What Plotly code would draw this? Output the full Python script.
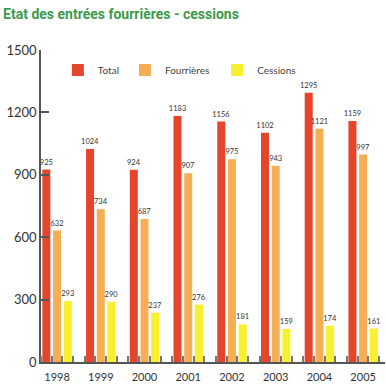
import plotly.graph_objects as go

years = ["1998", "1999", "2000", "2001", "2002", "2003", "2004", "2005"]
total = [925, 1024, 924, 1183, 1156, 1102, 1295, 1159]
fourrieres = [632, 734, 687, 907, 975, 943, 1121, 997]
cessions = [293, 290, 237, 276, 181, 159, 174, 161]
yticks = [0, 300, 600, 900, 1200, 1500]

pos = list(range(len(years)))
bargap = 0.266
slot = (1 - bargap) / 3
minor_vals = [p + k * slot for p in pos for k in (-1.5, -0.5, 0.5, 1.5)]

fig = go.Figure()
series = [("Total", total, "#e5462b", "legend"),
          ("Fourrières", fourrieres, "#f6ae55", "legend2"),
          ("Cessions", cessions, "#f8ef2e", "legend3")]
for name, vals, col, lg in series:
    fig.add_trace(go.Bar(
        x=pos, y=vals, name=name, marker=dict(color=col, line=dict(width=0)),
        text=[str(v) for v in vals], textposition="outside",
        constraintext="none",
        textfont=dict(size=7.5, color="#333333", family="Lato"),
        cliponaxis=False, legend=lg, showlegend=True, hoverinfo="skip",
    ))

legend_common = dict(orientation="h", yanchor="middle", xanchor="left",
                     font=dict(size=10, color="#444444", family="Lato"),
                     bgcolor="rgba(0,0,0,0)")
fig.update_layout(
    width=386, height=389,
    margin=dict(l=41, r=1, t=50, b=27, autoexpand=False),
    paper_bgcolor="white", plot_bgcolor="white",
    showlegend=True,
    barmode="group", bargap=bargap, bargroupgap=0.25,
    title=dict(text="<b>Etat des entrées fourrières - cessions</b>",
               x=0.008, xanchor="left", y=0.964, yanchor="middle",
               font=dict(size=14, color="#3c9a4a", family="Roboto")),
    legend=dict(x=0.049, y=0.936, **legend_common),
    legend2=dict(x=0.244, y=0.936, **legend_common),
    legend3=dict(x=0.512, y=0.936, **legend_common),
    xaxis=dict(range=[-1.5 * slot, 7.5], tickmode="array", tickvals=pos,
               ticktext=years, ticks="", showgrid=False, zeroline=False,
               showline=True, linecolor="#555555", linewidth=1.5,
               ticklabelstandoff=4,
               tickfont=dict(size=11, color="#333333", family="Lato"),
               minor=dict(tickmode="array", tickvals=minor_vals, ticks="inside",
                          ticklen=6, tickcolor="#777777", tickwidth=1.5,
                          showgrid=False)),
    yaxis=dict(range=[0, 1500], tickmode="array", tickvals=yticks,
               ticks="inside", ticklen=8, tickcolor="#555555", tickwidth=1.5,
               showgrid=False, zeroline=False, showline=True,
               linecolor="#555555", linewidth=1.5,
               tickfont=dict(size=13, color="#333333", family="Lato")),
)

fig.write_html("out.html", config={"displayModeBar": False},
               post_script="document.body.style.margin='0';")
